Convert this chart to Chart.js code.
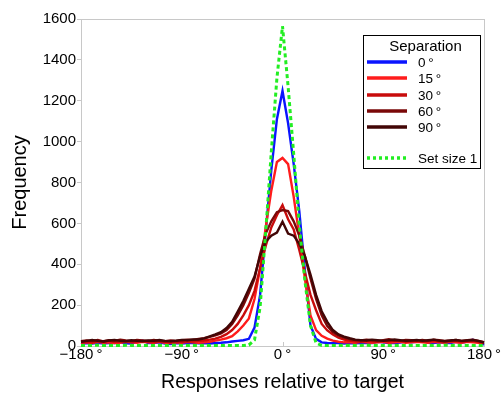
<!DOCTYPE html>
<html>
<head>
<meta charset="utf-8">
<script src="https://cdn.jsdelivr.net/npm/chart.js@4.4.0/dist/chart.umd.min.js"></script>
<style>
  html, body { margin: 0; padding: 0; background: #fff; }
  #wrap { width: 504px; height: 394px; }
</style>
</head>
<body>
<div id="wrap"><canvas id="chart" width="504" height="394"></canvas></div>
<script>
// bin centres, degrees relative to target
var degrees = [
  -180, -175, -170, -165, -160, -155, -150, -145, -140, -135, -130, -125,
  -120, -115, -110, -105, -100, -95, -90, -85, -80, -75, -70, -65,
  -60, -55, -50, -45, -40, -35, -30, -25, -20, -15, -10, -5,
  0, 5, 10, 15, 20, 25, 30, 35, 40, 45, 50, 55,
  60, 65, 70, 75, 80, 85, 90, 95, 100, 105, 110, 115,
  120, 125, 130, 135, 140, 145, 150, 155, 160, 165, 170, 175,
  180
];

var sep0 = [
  8, 14, 12, 16, 12, 15, 14, 18, 13, 12, 20, 26,
  15, 14, 18, 12, 10, 14, 12, 15, 16, 13, 14, 12,
  15, 16, 18, 22, 25, 28, 35, 90, 250, 560, 860, 1110,
  1248, 1090, 890, 660, 370, 100, 35, 18, 15, 14, 16, 12,
  14, 13, 15, 16, 14, 20, 18, 14, 15, 17, 22, 18,
  20, 28, 16, 14, 18, 15, 14, 20, 16, 22, 30, 20,
  6
];
var sep15 = [
  16, 18, 14, 20, 16, 18, 14, 16, 20, 18, 16, 21,
  18, 16, 20, 16, 14, 18, 16, 20, 18, 16, 18, 21,
  26, 31, 38, 48, 72, 100, 135, 230, 380, 580, 760, 900,
  920, 890, 730, 540, 330, 150, 78, 50, 36, 26, 21, 18,
  18, 16, 20, 18, 16, 18, 21, 16, 18, 20, 16, 18,
  20, 18, 16, 21, 18, 16, 20, 18, 16, 20, 18, 16,
  14
];
var sep30 = [
  19, 21, 17, 23, 20, 25, 19, 21, 23, 19, 22, 25,
  21, 19, 23, 20, 17, 21, 19, 23, 22, 25, 27, 31,
  36, 45, 58, 78, 108, 150, 200, 270, 380, 490, 580, 640,
  690, 620, 570, 470, 360, 250, 175, 108, 76, 56, 41, 31,
  26, 23, 21, 25, 23, 21, 25, 23, 27, 25, 21, 23,
  25, 21, 23, 25, 22, 20, 23, 25, 21, 23, 25, 20,
  15
];
var sep60 = [
  23, 27, 25, 29, 23, 28, 25, 31, 27, 25, 29, 27,
  25, 29, 26, 23, 27, 25, 28, 31, 30, 34, 38, 45,
  52, 62, 78, 108, 150, 200, 260, 330, 450, 550, 610, 655,
  665, 660, 610, 540, 440, 330, 230, 150, 98, 68, 52, 41,
  34, 29, 27, 31, 28, 25, 29, 33, 27, 25, 30, 28,
  26, 29, 25, 31, 28, 25, 27, 30, 25, 28, 31, 25,
  19
];
var sep90 = [
  21, 25, 29, 25, 22, 27, 30, 25, 23, 28, 25, 23,
  27, 25, 29, 25, 23, 26, 30, 28, 32, 32, 37, 47,
  57, 68, 88, 118, 168, 220, 280, 340, 440, 510, 540, 555,
  608, 550, 540, 500, 440, 350, 250, 170, 118, 78, 57, 46,
  38, 31, 29, 27, 31, 29, 25, 28, 32, 29, 25, 27,
  30, 25, 28, 31, 26, 23, 27, 29, 25, 27, 29, 25,
  17
];
var setSize1 = [
  3, 2, 3, 4, 2, 3, 3, 2, 4, 3, 2, 3,
  3, 2, 3, 2, 3, 4, 3, 2, 3, 3, 2, 3,
  3, 2, 3, 2, 3, 2, 5, 30, 190, 560, 950, 1310,
  1565, 1270, 940, 590, 320, 100, 15, 3, 2, 3, 2, 3,
  3, 2, 3, 4, 2, 3, 3, 2, 3, 3, 2, 3,
  3, 2, 3, 2, 3, 4, 3, 2, 3, 3, 2, 3,
  2
];

var yTicks = [0, 200, 400, 600, 800, 1000, 1200, 1400, 1600];
var xTicks = [-180, -90, 0, 90, 180];

var sepLabels = ['0', '15', '30', '60', '90'];
var sepColors = ['#0a14ff', '#ff1c1c', '#c80c0c', '#7a0808', '#420606'];
var sepSeries = [sep0, sep15, sep30, sep60, sep90];

function pts(vals) {
  return vals.map(function (v, i) { return { x: degrees[i], y: v }; });
}

function degLabel(v) {
  var s = Math.abs(v) + '\u2009\u00b0';
  return v < 0 ? '\u2212' + s : s;
}

var datasets = [];
for (var i = 0; i < sepSeries.length; i++) {
  datasets.push({
    label: sepLabels[i] + '\u2009\u00b0',
    data: pts(sepSeries[i]),
    borderColor: sepColors[i],
    borderWidth: 2.4,
    pointRadius: 0,
    tension: 0,
    fill: false,
    clip: 4,
    order: 5 - i
  });
}
datasets.push({
  label: 'Set size 1',
  data: pts(setSize1),
  borderColor: '#22ee22',
  borderWidth: 3,
  borderDash: [4, 3],
  pointRadius: 0,
  tension: 0,
  fill: false,
  clip: 4,
  order: 0
});

var FONT = '"Liberation Sans", Arial, Helvetica, sans-serif';

var framePlugin = {
  id: 'frame',
  beforeDatasetsDraw: function (chart) {
    var a = chart.chartArea, ctx = chart.ctx, xs = chart.scales.x;
    ctx.save();
    ctx.strokeStyle = '#c8c8c8';
    ctx.lineWidth = 1;
    ctx.strokeRect(Math.round(a.left) + 0.5, Math.round(a.top) + 0.5,
                   Math.round(a.right - a.left), Math.round(a.bottom - a.top));
    ctx.beginPath();
    xTicks.forEach(function (t) {
      var px = Math.round(xs.getPixelForValue(t)) + 0.5;
      ctx.moveTo(px, a.bottom);
      ctx.lineTo(px, a.bottom - 4);
    });
    ctx.stroke();
    ctx.restore();
  },
  afterDraw: function (chart) {
    // legend box in the upper right corner
    var ctx = chart.ctx;
    var bx = 363, by = 35, bw = 117, bh = 133;
    ctx.save();
    ctx.fillStyle = '#fff';
    ctx.fillRect(bx, by, bw, bh);
    ctx.strokeStyle = '#000';
    ctx.lineWidth = 1;
    ctx.strokeRect(bx + 0.5, by + 0.5, bw, bh);
    ctx.fillStyle = '#000';
    ctx.textBaseline = 'middle';
    ctx.textAlign = 'center';
    ctx.font = '15px ' + FONT;
    ctx.fillText('Separation', bx + bw / 2 + 4, 47);
    ctx.textAlign = 'left';
    ctx.font = '13.5px ' + FONT;
    var rows = [62, 78, 95, 111, 127, 158];
    chart.data.datasets.forEach(function (ds, k) {
      var y = rows[k];
      ctx.beginPath();
      ctx.strokeStyle = ds.borderColor;
      ctx.lineWidth = 3.5;
      ctx.setLineDash(ds.borderDash ? [3, 3] : []);
      ctx.moveTo(367, y);
      ctx.lineTo(407, y);
      ctx.stroke();
      ctx.setLineDash([]);
      ctx.fillStyle = '#000';
      ctx.fillText(ds.label, 418, y + 1);
    });
    ctx.restore();
  }
};

new Chart(document.getElementById('chart'), {
  type: 'line',
  data: { datasets: datasets },
  options: {
    responsive: false,
    animation: false,
    layout: { padding: { top: 19, right: 20, left: 0, bottom: 0 } },
    plugins: {
      legend: { display: false },
      tooltip: { enabled: false }
    },
    scales: {
      x: {
        type: 'linear',
        min: -180,
        max: 180,
        afterBuildTicks: function (scale) {
          scale.ticks = xTicks.map(function (v) { return { value: v }; });
        },
        afterFit: function (scale) { scale.height = 48; },
        grid: { display: false, drawTicks: false },
        border: { display: false },
        ticks: {
          padding: 0,
          maxRotation: 0,
          autoSkip: false,
          color: '#000',
          font: { family: FONT, size: 15 },
          callback: function (v) { return degLabel(v); }
        },
        title: {
          display: true,
          text: 'Responses relative to target',
          color: '#000',
          font: { family: FONT, size: 19.5 },
          padding: { top: 0, bottom: 0 }
        }
      },
      y: {
        min: 0,
        max: 1600,
        afterBuildTicks: function (scale) {
          scale.ticks = yTicks.map(function (v) { return { value: v }; });
        },
        afterFit: function (scale) { scale.width = 81; },
        grid: { drawOnChartArea: false, drawTicks: true, tickLength: 4, color: '#c8c8c8' },
        border: { display: false },
        ticks: {
          padding: 1,
          color: '#000',
          font: { family: FONT, size: 15 },
          callback: function (v) { return String(v); }
        },
        title: {
          display: true,
          text: 'Frequency',
          color: '#000',
          font: { family: FONT, size: 20 },
          padding: { top: 8, bottom: 0 }
        }
      }
    }
  },
  plugins: [framePlugin]
});
</script>
</body>
</html>
